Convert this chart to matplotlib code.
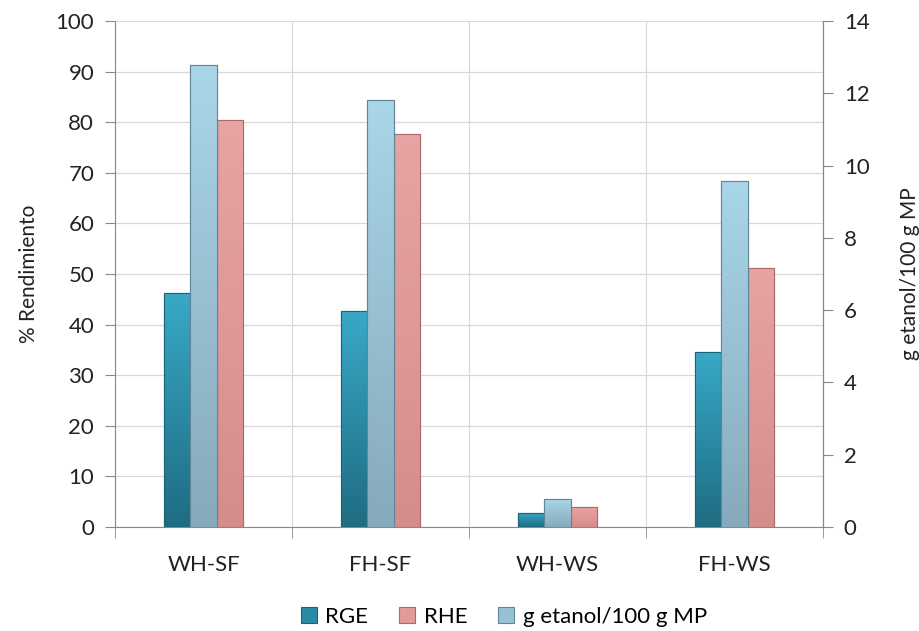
import matplotlib
matplotlib.use("Agg")
import matplotlib.pyplot as plt
import matplotlib.colors as mcolors
import numpy as np

categories = ["WH-SF", "FH-SF", "WH-WS", "FH-WS"]
rge = [46.2, 42.7, 2.8, 34.6]
rhe = [80.4, 77.7, 4.0, 51.2]
g_etanol = [12.78, 11.82, 0.77, 9.57]

plt.rcParams['font.family'] = ['Lato', 'DejaVu Sans']

fig = plt.figure(figsize=(9.19, 6.31), dpi=100)
ax = fig.add_axes([115/919, 1-527/631, (823-115)/919, (527-21)/631])
ax2 = ax.twinx()

x = np.arange(len(categories))
w = 0.15
c_rge = "#2b8aa5"
c_rhe = "#e29a9a"
c_g = "#96c2d4"

b1 = ax.bar(x - w, rge, w, color=c_rge, edgecolor="#1d6378", linewidth=0.8, zorder=3, label="RGE")
b2 = ax.bar(x + w, rhe, w, color=c_rhe, edgecolor="#a86a6a", linewidth=0.8, zorder=3, label="RHE")
b3 = ax2.bar(x, g_etanol, w, color=c_g, edgecolor="#5f8797", linewidth=0.8, zorder=3, label="g etanol/100 g MP")

def shade(a, bars, top, bottom):
    cmap = mcolors.LinearSegmentedColormap.from_list("g", [bottom, top])
    grad = np.linspace(0, 1, 256).reshape(-1, 1)
    for p in bars:
        x0, y0 = p.get_x(), p.get_y()
        im = a.imshow(grad, cmap=cmap, aspect='auto', origin='lower',
                      extent=[x0, x0 + p.get_width(), y0, y0 + p.get_height()],
                      zorder=3.5, interpolation='bilinear')
        im.set_clip_path(p)
        edge = plt.Rectangle((x0, y0), p.get_width(), p.get_height(), fill=False,
                             edgecolor=p.get_edgecolor(), linewidth=0.8, zorder=3.6)
        a.add_patch(edge)

shade(ax, b1, "#38a9c7", "#1f6c82")
shade(ax, b2, "#e8a3a3", "#d78c8c")
shade(ax2, b3, "#a9d6e8", "#86aabb")

ax.set_xlim(-0.5, len(categories) - 0.5)
ax2.set_xlim(-0.5, len(categories) - 0.5)
ax.set_ylim(0, 100)
ax2.set_ylim(0, 14)
ax.set_yticks(np.arange(0, 101, 10))
ax2.set_yticks(np.arange(0, 15, 2))

ax.set_xticks(x)
ax.set_xticklabels(categories, fontsize=16, color="#222222")
ax.set_xticks(np.arange(-0.5, len(categories), 1), minor=True)
ax.tick_params(axis='x', which='major', length=0, pad=20)
ax.tick_params(axis='x', which='minor', length=8, direction='out', color="#888888")
ax.tick_params(axis='y', length=7, direction='out', color="#888888", labelsize=16, labelcolor="#222222", pad=8)
ax2.tick_params(axis='y', length=7, direction='out', color="#888888", labelsize=16, labelcolor="#222222", pad=8)

ax.grid(axis='y', color="#d9d9d9", linewidth=0.9, zorder=0)
ax.grid(axis='x', which='minor', color="#d9d9d9", linewidth=0.9, zorder=0)
ax.set_axisbelow(True)

for a in (ax, ax2):
    a.spines['top'].set_visible(False)
    a.spines['right'].set_color("#888888")
    a.spines['left'].set_color("#888888")
    a.spines['bottom'].set_color("#888888")
ax2.spines['left'].set_visible(False)
ax2.spines['bottom'].set_visible(False)

ax.set_ylabel("% Rendimiento", fontsize=15, color="#222222", labelpad=12)
ax2.set_ylabel("g etanol/100 g MP", fontsize=15, color="#222222", labelpad=22)

handles = [b1, b2, b3]
fig.legend(handles, [h.get_label() for h in handles], loc='center', bbox_to_anchor=(504/919, 1-617/631),
           ncol=3, frameon=False, fontsize=16, handlelength=0.7, handleheight=0.7,
           columnspacing=1.4, handletextpad=0.4)

fig.savefig("out.png", dpi=100)
